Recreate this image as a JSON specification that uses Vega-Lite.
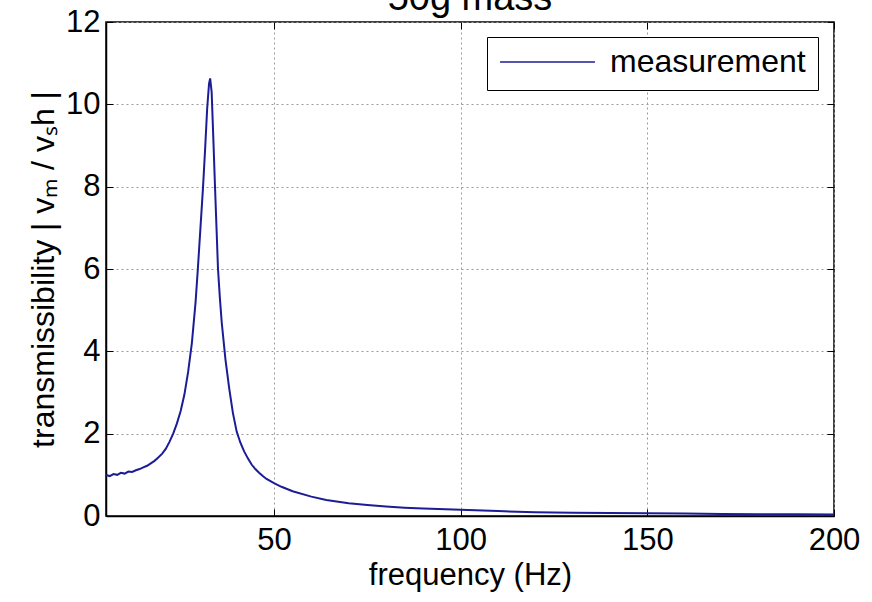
{
  "$schema": "https://vega.github.io/schema/vega-lite/v6.json",
  "autosize": "none",
  "width": 728,
  "height": 494,
  "padding": {"left": 106, "top": 22, "right": 38, "bottom": 86},
  "background": "white",
  "title": {"text": "50g mass", "fontSize": 38, "font": "Liberation Sans", "fontWeight": "normal", "anchor": "middle", "baseline": "alphabetic", "offset": -42, "color": "black"},
  "config": {"view": {"stroke": "black", "strokeWidth": 1.5}, "font": "Liberation Sans"},
  "data": {"values": [
    {"f": 5, "v": 1.0}, {"f": 6, "v": 0.97}, {"f": 7, "v": 1.02}, {"f": 8, "v": 1.0}, {"f": 9, "v": 1.05},
    {"f": 10, "v": 1.03}, {"f": 11, "v": 1.08}, {"f": 12, "v": 1.07}, {"f": 13, "v": 1.11}, {"f": 14, "v": 1.14},
    {"f": 15, "v": 1.18}, {"f": 16, "v": 1.22}, {"f": 17, "v": 1.28}, {"f": 18, "v": 1.34}, {"f": 19, "v": 1.42},
    {"f": 20, "v": 1.51}, {"f": 21, "v": 1.63}, {"f": 22, "v": 1.8}, {"f": 23, "v": 2.0}, {"f": 24, "v": 2.25},
    {"f": 25, "v": 2.55}, {"f": 26, "v": 2.95}, {"f": 27, "v": 3.5}, {"f": 28, "v": 4.2}, {"f": 29, "v": 5.2},
    {"f": 29.6, "v": 6.0}, {"f": 30.3, "v": 7.0}, {"f": 31, "v": 8.0}, {"f": 31.6, "v": 9.0}, {"f": 32.1, "v": 9.9},
    {"f": 32.6, "v": 10.5}, {"f": 32.9, "v": 10.63}, {"f": 33.3, "v": 10.3}, {"f": 33.7, "v": 9.3}, {"f": 34.2, "v": 8.0},
    {"f": 34.6, "v": 7.0}, {"f": 35, "v": 6.0}, {"f": 35.5, "v": 5.3}, {"f": 36, "v": 4.7}, {"f": 37, "v": 3.8},
    {"f": 38, "v": 3.1}, {"f": 39, "v": 2.5}, {"f": 40, "v": 2.05}, {"f": 41, "v": 1.78}, {"f": 42, "v": 1.57},
    {"f": 43, "v": 1.4}, {"f": 44, "v": 1.25}, {"f": 45, "v": 1.14}, {"f": 46, "v": 1.05}, {"f": 47, "v": 0.97},
    {"f": 48, "v": 0.9}, {"f": 50, "v": 0.8}, {"f": 52, "v": 0.71}, {"f": 55, "v": 0.6}, {"f": 60, "v": 0.47},
    {"f": 64, "v": 0.39}, {"f": 70, "v": 0.31}, {"f": 75, "v": 0.27}, {"f": 80, "v": 0.23}, {"f": 85, "v": 0.2},
    {"f": 90, "v": 0.18}, {"f": 100, "v": 0.15}, {"f": 110, "v": 0.12}, {"f": 120, "v": 0.09}, {"f": 130, "v": 0.08},
    {"f": 140, "v": 0.07}, {"f": 150, "v": 0.065}, {"f": 160, "v": 0.06}, {"f": 170, "v": 0.05}, {"f": 180, "v": 0.045},
    {"f": 190, "v": 0.04}, {"f": 200, "v": 0.035}
  ]},
  "layer": [
    {
      "mark": {"type": "line", "strokeWidth": 2, "clip": true},
      "encoding": {
        "x": {"field": "f", "type": "quantitative", "scale": {"domain": [5, 200], "nice": false, "zero": false},
          "axis": {"values": [50, 100, 150, 200], "title": "frequency (Hz)", "grid": true, "gridDash": [2, 3], "gridColor": "#9a9a9a", "gridWidth": 1,
            "tickSize": -7, "tickColor": "black", "domainColor": "black", "domainWidth": 1.5, "labelPadding": 16, "labelFontSize": 31, "labelColor": "black", "labelFlush": false,
            "titleFontSize": 31, "titleFontWeight": "normal", "titleColor": "black", "titlePadding": 5, "labelFont": "Liberation Sans", "titleFont": "Liberation Sans"}},
        "y": {"field": "v", "type": "quantitative", "scale": {"domain": [0, 12], "nice": false},
          "axis": {"values": [0, 2, 4, 6, 8, 10, 12], "title": "transmissibility | vₘ / vₛh |", "grid": true, "gridDash": [2, 3], "gridColor": "#9a9a9a", "gridWidth": 1,
            "tickSize": -7, "tickColor": "black", "domainColor": "black", "domainWidth": 1.5, "labelPadding": 13, "labelFontSize": 31, "labelColor": "black", "labelFlush": false,
            "titleFontSize": 32, "titleFontWeight": "normal", "titleColor": "black", "titlePadding": 5, "labelFont": "Liberation Sans", "titleFont": "Liberation Sans"}},
        "color": {"datum": "measurement", "type": "nominal", "scale": {"range": ["#1c1c96"]},
          "legend": {"title": null, "orient": "none", "legendX": 381, "legendY": 15, "strokeColor": "black", "fillColor": "white",
            "padding": 12, "symbolType": "stroke", "symbolSize": 9000, "symbolStrokeWidth": 1.5, "clipHeight": 26, "labelFontSize": 32, "labelFont": "Liberation Sans", "labelColor": "black", "labelOffset": 14, "labelLimit": 400}}
      }
    },
    {
      "mark": {"type": "line", "opacity": 0},
      "encoding": {
        "x": {"field": "f", "type": "quantitative", "axis": {"orient": "top", "values": [50, 100, 150, 200], "labels": false, "grid": false, "title": null, "tickSize": -7, "tickColor": "black", "domain": false}},
        "y": {"field": "v", "type": "quantitative", "axis": {"orient": "right", "values": [0, 2, 4, 6, 8, 10, 12], "labels": false, "grid": false, "title": null, "tickSize": -7, "tickColor": "black", "domain": false}}
      }
    }
  ],
  "resolve": {"axis": {"x": "independent", "y": "independent"}}
}
